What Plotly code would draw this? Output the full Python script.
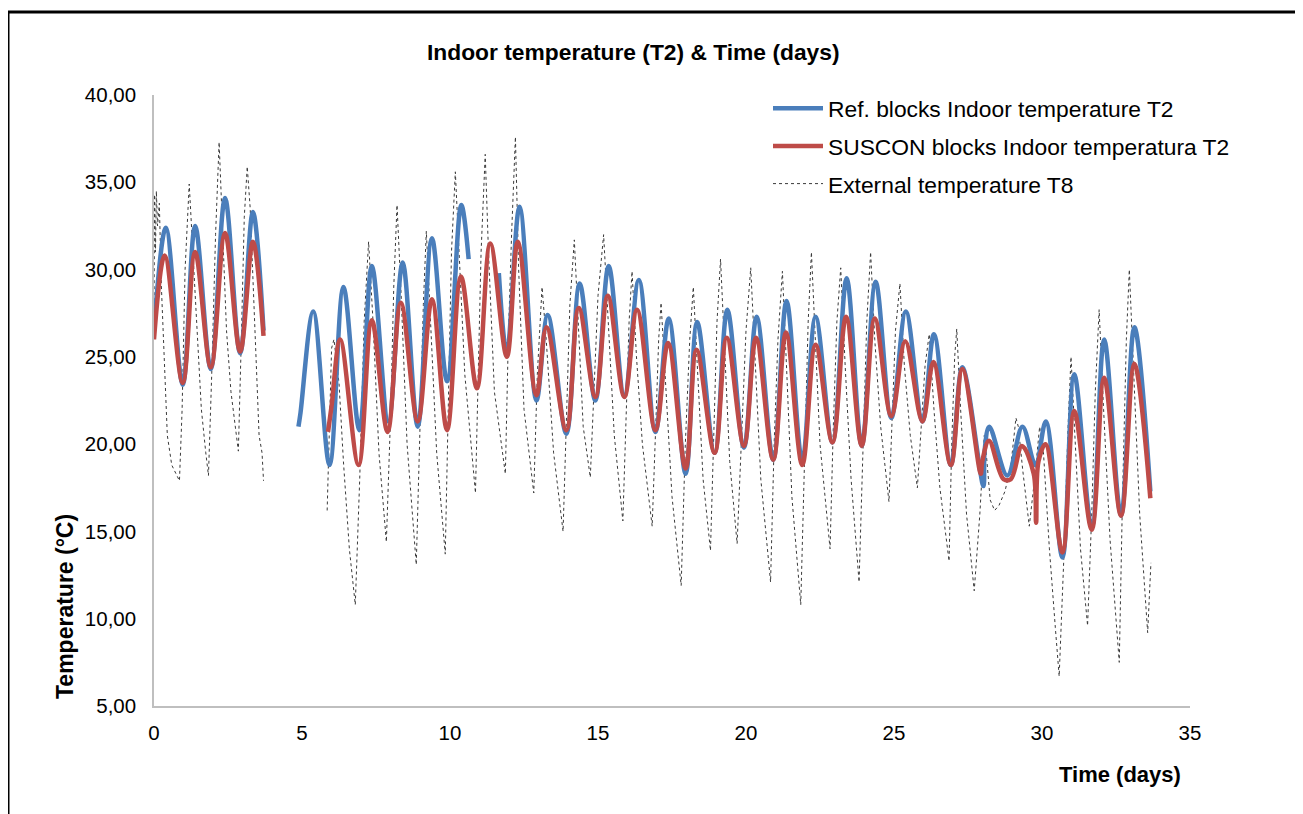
import plotly.graph_objects as go

# ---------------- data ----------------
ref_days = [0.00, 0.40, 0.97, 1.39, 1.92, 2.40, 2.91, 3.34, 3.70, None,
            4.88, 4.95, 5.38, 5.93, 6.40, 6.94, 7.36, 7.92, 8.40, 8.91, 9.39, 9.90, 10.38, 10.63, None,
            11.65, 11.92, 12.35, 12.92, 13.30, 13.93, 14.38, 14.91, 15.36, 15.89, 16.38, 16.94,
            17.39, 17.96, 18.35, 18.94, 19.37, 19.93, 20.36, 20.92, 21.37, 21.90, 22.35, 22.92,
            23.40, 23.91, 24.38, 24.91, 25.40, 25.96, 26.35, 26.92, 27.31, 28.02, 28.06, 28.22,
            28.83, 29.34, 29.78, 30.13, 30.69, 31.09, 31.68, 32.10, 32.67, 33.12, 33.66]
ref_temp = [26.5, 32.4, 23.4, 32.5, 24.3, 34.1, 25.2, 33.3, 26.5, None,
            21.0, 21.8, 27.6, 18.8, 29.0, 20.8, 30.2, 21.3, 30.4, 21.0, 31.8, 23.6, 33.7, 30.6, None,
            29.8, 25.2, 33.6, 22.5, 27.4, 20.6, 29.2, 22.5, 30.2, 22.8, 29.4, 20.7,
            27.2, 18.3, 27.0, 19.5, 27.7, 19.8, 27.3, 19.1, 28.2, 19.0, 27.3, 20.1,
            29.5, 19.9, 29.3, 21.5, 27.6, 21.3, 26.3, 18.8, 24.4, 17.6, 19.6, 21.0,
            18.2, 21.0, 18.8, 21.3, 13.5, 24.0, 15.2, 26.0, 15.9, 26.7, 17.3]

suscon_days = [0.00, 0.36, 0.97, 1.39, 1.92, 2.40, 2.91, 3.34, 3.70, None,
               5.88, 6.00, 6.29, 6.91, 7.36, 7.89, 8.34, 8.91, 9.39, 9.90, 10.37, 10.91, 11.36,
               11.92, 12.29, 12.92, 13.26, 13.93, 14.35, 14.91, 15.33, 15.89, 16.32, 16.94, 17.37,
               17.96, 18.33, 18.94, 19.35, 19.93, 20.34, 20.92, 21.35, 21.90, 22.35, 22.92, 23.38,
               23.91, 24.35, 24.91, 25.38, 25.96, 26.33, 26.92, 27.31, 27.93, 27.98, 28.21, 28.70,
               28.95, 29.32, 29.72, 29.80, 29.88, 30.12, 30.69, 31.09, 31.68, 32.10, 32.67, 33.12,
               33.66]
suscon_temp = [26.0, 30.8, 23.5, 31.0, 24.4, 32.1, 25.3, 31.6, 26.2, None,
               20.7, 22.2, 26.0, 18.8, 27.1, 20.7, 28.1, 21.3, 28.3, 20.8, 29.6, 23.2, 31.5,
               25.0, 31.6, 22.8, 26.7, 20.8, 27.8, 22.7, 28.5, 22.7, 27.7, 20.8, 25.8,
               18.6, 25.4, 19.5, 26.1, 19.9, 26.1, 19.1, 26.4, 18.8, 25.7, 20.1, 27.3,
               19.9, 27.2, 21.6, 25.9, 21.3, 24.7, 18.8, 24.3, 18.3, 19.0, 20.2, 18.0,
               18.0, 19.9, 18.3, 15.5, 19.0, 20.0, 13.8, 21.9, 15.1, 23.8, 15.9, 24.6,
               16.9]

ext_days = [0.00, 0.02, 0.05, 0.08, 0.12, 0.18, 0.25, 0.35, 0.45, 0.60, 0.75, 0.86, 0.95, 1.05,
            1.19, 1.30, 1.45, 1.60, 1.75, 1.84, 1.95, 2.08, 2.20, 2.32, 2.45, 2.60, 2.75, 2.85,
            2.95, 3.05, 3.15, 3.25, 3.40, 3.55, 3.65, 3.70, None,
            5.85, 5.92, 6.00, 6.08, 6.15, 6.25, 6.40, 6.60, 6.80, 6.95, 7.10, 7.25, 7.40, 7.60,
            7.85, 8.00, 8.10, 8.21, 8.35, 8.55, 8.86, 9.00, 9.10, 9.20, 9.35, 9.55, 9.84, 9.95,
            10.05, 10.18, 10.30, 10.50, 10.86, 10.95, 11.05, 11.19, 11.30, 11.50, 11.87, 11.97,
            12.08, 12.21, 12.32, 12.50, 12.83, 12.95, 13.11, 13.25, 13.50, 13.82, 13.95, 14.05,
            14.20, 14.35, 14.50, 14.74, 14.88, 15.00, 15.19, 15.35, 15.55, 15.84, 15.95, 16.05,
            16.15, 16.30, 16.50, 16.83, 16.95, 17.05, 17.13, 17.30, 17.50, 17.81, 17.95, 18.10,
            18.22, 18.40, 18.55, 18.80, 18.92, 19.02, 19.14, 19.30, 19.45, 19.70, 19.85, 20.00,
            20.16, 20.30, 20.50, 20.83, 20.95, 21.08, 21.23, 21.38, 21.55, 21.85, 21.98, 22.10,
            22.21, 22.35, 22.50, 22.84, 22.95, 23.07, 23.20, 23.35, 23.55, 23.82, 23.95, 24.08,
            24.21, 24.35, 24.55, 24.83, 24.95, 25.05, 25.20, 25.35, 25.55, 25.79, 25.92, 26.05,
            26.19, 26.35, 26.55, 26.86, 26.95, 27.05, 27.12, 27.25, 27.45, 27.71, 27.90, 28.05,
            28.12, 28.25, 28.40, 28.55, 28.75, 28.95, 29.12, 29.20, 29.35, 29.57, 29.75, 29.92,
            30.05, 30.25, 30.45, 30.58, 30.75, 30.88, 30.98, 31.12, 31.30, 31.54, 31.68, 31.80,
            31.93, 32.08, 32.30, 32.61, 32.72, 32.85, 32.95, 33.10, 33.30, 33.57, 33.62, 33.68]
ext_temp = [27.5, 34.3, 31.0, 34.5, 32.5, 33.8, 29.0, 24.5, 20.5, 18.8, 18.3, 17.9, 22.0, 30.0,
            34.9, 31.5, 26.5, 22.0, 19.5, 18.2, 24.0, 32.0, 37.3, 32.0, 26.5, 23.0, 20.8, 19.6,
            26.0, 33.0, 35.9, 33.5, 27.0, 20.5, 19.5, 17.9, None,
            16.2, 21.0, 25.5, 26.0, 25.0, 23.5, 19.0, 14.0, 10.8, 18.0, 27.0, 31.6, 27.0, 19.5,
            14.4, 22.0, 29.0, 33.7, 28.5, 20.0, 13.1, 21.0, 28.0, 32.2, 27.0, 19.5, 13.7, 24.0,
            31.0, 35.6, 31.5, 24.0, 17.2, 24.0, 31.0, 36.6, 31.0, 23.0, 18.3, 26.0,
            32.0, 37.6, 30.0, 22.0, 17.2, 24.0, 29.0, 26.0, 19.5, 15.0, 22.0, 28.0,
            31.7, 26.0, 21.0, 18.1, 24.0, 28.5, 32.0, 27.0, 20.5, 15.6, 22.0, 27.0,
            29.9, 25.0, 20.0, 15.3, 21.0, 26.0, 28.1, 23.0, 17.0, 11.9, 20.0, 26.0,
            29.0, 23.0, 18.0, 13.9, 21.0, 27.0, 30.6, 25.0, 19.0, 14.3, 20.0, 26.5,
            30.1, 25.0, 18.0, 12.1, 20.0, 26.0, 29.9, 24.0, 17.0, 10.8, 19.0, 27.0,
            31.0, 25.5, 20.0, 14.0, 21.0, 27.0, 30.1, 24.5, 18.0, 12.1, 20.0, 27.0,
            31.0, 26.0, 21.0, 16.7, 22.0, 26.5, 29.2, 24.5, 20.5, 17.5, 21.0, 24.5,
            26.3, 22.0, 17.5, 13.3, 20.0, 25.0, 26.6, 22.0, 16.0, 11.6, 16.0, 20.5,
            19.4, 16.8, 16.2, 16.5, 17.3, 18.8, 21.5, 21.0, 18.5, 15.3, 18.0, 21.0,
            19.5, 14.0, 9.5, 6.7, 14.0, 21.0, 25.0, 20.0, 14.0, 9.6, 16.0, 23.0,
            27.7, 22.0, 14.5, 7.5, 17.0, 26.0, 30.0, 24.0, 16.0, 9.2, 11.0, 13.2]

series_names = ["Ref. blocks Indoor temperature T2",
                "SUSCON blocks Indoor temperatura T2",
                "External temperature T8"]
x_ticks = [0, 5, 10, 15, 20, 25, 30, 35]
y_ticks = [5, 10, 15, 20, 25, 30, 35, 40]

# ---------------- figure ----------------
OFF = 8                      # default page (body) margin of the browser
W, H = 1303 - OFF, 814 - OFF
L, R, T, B = 154, 1190, 95, 706   # plot-area edges in screenshot pixels


def px_x(p):
    return (p - L) / (R - L)


def px_y(p):
    return (B - p) / (B - T)


fig = go.Figure()
fig.add_trace(go.Scatter(x=ext_days, y=ext_temp, mode="lines", name=series_names[2],
                         line=dict(color="#3a3a3a", width=1, dash="dot"),
                         legendrank=3, legendgroup="c", connectgaps=False))
fig.add_trace(go.Scatter(x=ref_days, y=ref_temp, mode="lines", name=series_names[0],
                         line=dict(color="#4a7ebb", width=4.5, shape="spline", smoothing=1.0),
                         legendrank=1, legendgroup="a", connectgaps=False))
fig.add_trace(go.Scatter(x=suscon_days, y=suscon_temp, mode="lines", name=series_names[1],
                         line=dict(color="#be4b48", width=4.5, shape="spline", smoothing=1.0),
                         legendrank=2, legendgroup="b", connectgaps=False))

axis_font = dict(family="Liberation Sans, Arial, sans-serif", size=20.5, color="#000000")

fig.update_layout(
    width=W, height=H, autosize=False,
    margin=dict(l=L - OFF, r=W - (R - OFF), t=T - OFF, b=H - (B - OFF), pad=0),
    paper_bgcolor="white", plot_bgcolor="white",
    separators=", ",
    font=dict(family="Liberation Sans, Arial, sans-serif", size=20, color="#000000"),
    showlegend=True,
    legend=dict(x=px_x(768), y=px_y(87), xanchor="left", yanchor="top",
                font=dict(family="Liberation Sans, Arial, sans-serif", size=22.8, color="#000000"),
                bgcolor="rgba(0,0,0,0)", tracegroupgap=5, itemwidth=50,
                traceorder="grouped"),
    xaxis=dict(range=[0, 35], tickvals=x_ticks, tickformat="d", showgrid=False,
               zeroline=False, showline=True, linecolor="#bfbfbf", linewidth=1.5,
               ticks="", tickfont=axis_font, ticklabelstandoff=8),
    yaxis=dict(range=[5, 40], tickvals=y_ticks, tickformat=".2f", showgrid=False,
               zeroline=False, showline=True, linecolor="#bfbfbf", linewidth=1.5,
               ticks="", tickfont=axis_font, ticklabelstandoff=12),
)

# title and axis titles (positioned like the original)
fig.add_annotation(text="<b>Indoor temperature (T2) &amp; Time (days)</b>",
                   xref="paper", yref="paper", x=px_x(633), y=px_y(52),
                   xanchor="center", yanchor="middle", showarrow=False,
                   font=dict(family="Liberation Sans Narrow, Liberation Sans, Arial, sans-serif",
                             size=22.8, color="#000000"))
fig.add_annotation(text="<b>Temperature (°C)</b>", textangle=-90,
                   xref="paper", yref="paper", x=px_x(65), y=px_y(607),
                   xanchor="center", yanchor="middle", showarrow=False,
                   font=dict(family="Liberation Sans, Arial, sans-serif", size=23, color="#000000"))
fig.add_annotation(text="<b>Time (days)</b>",
                   xref="paper", yref="paper", x=px_x(1120), y=px_y(774),
                   xanchor="center", yanchor="middle", showarrow=False,
                   font=dict(family="Liberation Sans, Arial, sans-serif", size=22, color="#000000"))

# outer frame of the chart
fig.add_shape(type="rect", xref="paper", yref="paper",
              x0=px_x(8), x1=px_x(1298), y0=px_y(830), y1=px_y(12),
              line=dict(color="#000000", width=3), fillcolor="rgba(0,0,0,0)", layer="above")

fig.write_html("out.html")
